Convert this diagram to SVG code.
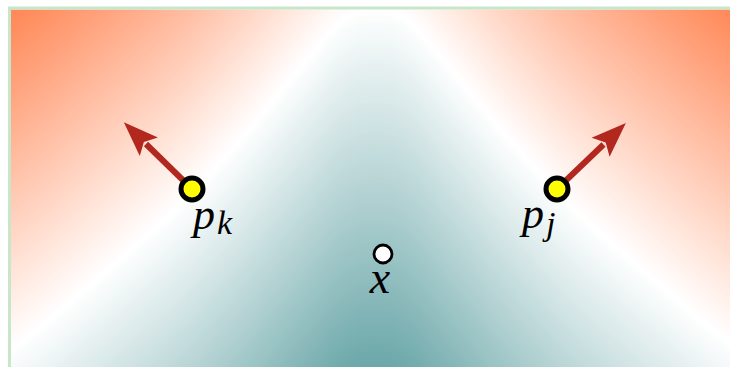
<svg xmlns="http://www.w3.org/2000/svg" width="730" height="367" viewBox="0 0 730 367">
<style>
.pt{stroke:#000;stroke-width:5;fill:#ffff00}
.ox{stroke:#000;stroke-width:2.8;fill:#fff}
.lbl{font-family:"Liberation Serif","Times New Roman",serif;font-style:italic;fill:#000}
.big{font-size:44px}
.sub{font-size:34px}
.arr{stroke:#b2281f;stroke-width:6;fill:none;marker-end:url(#head)}
</style>
<defs>
<clipPath id="clip"><rect x="11" y="9.5" width="719" height="357.5"/></clipPath>
<filter id="soft" filterUnits="userSpaceOnUse" x="-60" y="-60" width="850" height="490"><feGaussianBlur stdDeviation="2.5"/></filter>
<path id="lv" d="M-75,410 L-25,372 L15,341 L45,318 L75,292 L110,262 L135,240 L165,214 L190,190 L215,162 L235,140 L255,117 L275,92 L295,68 L315,44 L330,26 L345,12 L360,5 L375,3 L390,5 L405,12 L420,26 L435,44 L455,68 L475,92 L495,117 L515,140 L535,162 L560,190 L585,214 L615,240 L640,262 L675,292 L705,318 L735,341 L775,372 L825,410 L825,1300 L-75,1300 Z"/>
<marker id="head" markerUnits="userSpaceOnUse" orient="auto" refX="0" refY="0" markerWidth="40" markerHeight="30" overflow="visible">
<path d="M31,0 L-4,-13 L3,0 L-4,13 Z" fill="#b2281f"/>
</marker>
</defs>
<g id="field" clip-path="url(#clip)">
<g filter="url(#soft)">
<rect x="-60" y="-60" width="850" height="490" fill="rgb(255,138,90)"/>
<use href="#lv" transform="translate(0,-320)" fill="rgb(255,142,95)"/>
<use href="#lv" transform="translate(0,-310)" fill="rgb(255,145,100)"/>
<use href="#lv" transform="translate(0,-300)" fill="rgb(255,149,105)"/>
<use href="#lv" transform="translate(0,-290)" fill="rgb(255,152,110)"/>
<use href="#lv" transform="translate(0,-280)" fill="rgb(255,156,115)"/>
<use href="#lv" transform="translate(0,-270)" fill="rgb(255,159,120)"/>
<use href="#lv" transform="translate(0,-260)" fill="rgb(255,163,125)"/>
<use href="#lv" transform="translate(0,-250)" fill="rgb(255,166,130)"/>
<use href="#lv" transform="translate(0,-240)" fill="rgb(255,170,135)"/>
<use href="#lv" transform="translate(0,-230)" fill="rgb(255,173,140)"/>
<use href="#lv" transform="translate(0,-220)" fill="rgb(255,177,145)"/>
<use href="#lv" transform="translate(0,-210)" fill="rgb(255,181,150)"/>
<use href="#lv" transform="translate(0,-200)" fill="rgb(255,184,155)"/>
<use href="#lv" transform="translate(0,-190)" fill="rgb(255,188,160)"/>
<use href="#lv" transform="translate(0,-180)" fill="rgb(255,191,165)"/>
<use href="#lv" transform="translate(0,-170)" fill="rgb(255,195,170)"/>
<use href="#lv" transform="translate(0,-160)" fill="rgb(255,198,175)"/>
<use href="#lv" transform="translate(0,-150)" fill="rgb(255,202,180)"/>
<use href="#lv" transform="translate(0,-140)" fill="rgb(255,205,185)"/>
<use href="#lv" transform="translate(0,-130)" fill="rgb(255,209,190)"/>
<use href="#lv" transform="translate(0,-120)" fill="rgb(255,212,195)"/>
<use href="#lv" transform="translate(0,-110)" fill="rgb(255,216,200)"/>
<use href="#lv" transform="translate(0,-100)" fill="rgb(255,220,205)"/>
<use href="#lv" transform="translate(0,-90)" fill="rgb(255,223,210)"/>
<use href="#lv" transform="translate(0,-80)" fill="rgb(255,227,215)"/>
<use href="#lv" transform="translate(0,-70)" fill="rgb(255,230,220)"/>
<use href="#lv" transform="translate(0,-60)" fill="rgb(255,234,225)"/>
<use href="#lv" transform="translate(0,-50)" fill="rgb(255,237,230)"/>
<use href="#lv" transform="translate(0,-40)" fill="rgb(255,241,235)"/>
<use href="#lv" transform="translate(0,-30)" fill="rgb(255,244,240)"/>
<use href="#lv" transform="translate(0,-20)" fill="rgb(255,248,245)"/>
<use href="#lv" transform="translate(0,-10)" fill="rgb(255,251,250)"/>
<use href="#lv" transform="translate(0,0)" fill="rgb(255,255,255)"/>
<use href="#lv" transform="translate(0,10)" fill="rgb(251,253,253)"/>
<use href="#lv" transform="translate(0,20)" fill="rgb(247,250,250)"/>
<use href="#lv" transform="translate(0,30)" fill="rgb(243,248,248)"/>
<use href="#lv" transform="translate(0,40)" fill="rgb(239,245,245)"/>
<use href="#lv" transform="translate(0,50)" fill="rgb(234,243,243)"/>
<use href="#lv" transform="translate(0,60)" fill="rgb(230,240,241)"/>
<use href="#lv" transform="translate(0,70)" fill="rgb(226,238,238)"/>
<use href="#lv" transform="translate(0,80)" fill="rgb(222,235,236)"/>
<use href="#lv" transform="translate(0,90)" fill="rgb(218,233,233)"/>
<use href="#lv" transform="translate(0,100)" fill="rgb(214,230,231)"/>
<use href="#lv" transform="translate(0,110)" fill="rgb(210,228,229)"/>
<use href="#lv" transform="translate(0,120)" fill="rgb(206,226,226)"/>
<use href="#lv" transform="translate(0,130)" fill="rgb(201,223,224)"/>
<use href="#lv" transform="translate(0,140)" fill="rgb(197,221,221)"/>
<use href="#lv" transform="translate(0,150)" fill="rgb(193,218,219)"/>
<use href="#lv" transform="translate(0,160)" fill="rgb(189,216,217)"/>
<use href="#lv" transform="translate(0,170)" fill="rgb(185,213,214)"/>
<use href="#lv" transform="translate(0,180)" fill="rgb(181,211,212)"/>
<use href="#lv" transform="translate(0,190)" fill="rgb(177,208,209)"/>
<use href="#lv" transform="translate(0,200)" fill="rgb(173,206,207)"/>
<use href="#lv" transform="translate(0,210)" fill="rgb(169,204,205)"/>
<use href="#lv" transform="translate(0,220)" fill="rgb(164,201,202)"/>
<use href="#lv" transform="translate(0,230)" fill="rgb(160,199,200)"/>
<use href="#lv" transform="translate(0,240)" fill="rgb(156,196,197)"/>
<use href="#lv" transform="translate(0,250)" fill="rgb(152,194,195)"/>
<use href="#lv" transform="translate(0,260)" fill="rgb(148,191,193)"/>
<use href="#lv" transform="translate(0,270)" fill="rgb(144,189,190)"/>
<use href="#lv" transform="translate(0,280)" fill="rgb(140,186,188)"/>
<use href="#lv" transform="translate(0,290)" fill="rgb(136,184,185)"/>
<use href="#lv" transform="translate(0,300)" fill="rgb(132,181,183)"/>
<use href="#lv" transform="translate(0,310)" fill="rgb(127,179,181)"/>
<use href="#lv" transform="translate(0,320)" fill="rgb(123,177,178)"/>
<use href="#lv" transform="translate(0,330)" fill="rgb(119,174,176)"/>
<use href="#lv" transform="translate(0,340)" fill="rgb(115,172,173)"/>
<use href="#lv" transform="translate(0,350)" fill="rgb(111,169,171)"/>
<use href="#lv" transform="translate(0,360)" fill="rgb(107,167,169)"/>
</g>
</g>
<rect id="frame" x="9.5" y="8" width="730" height="370" fill="none" stroke="#c8e6c9" stroke-width="3"/>
<g id="connectors">
<line class="arr" x1="192" y1="189" x2="146" y2="144"/>
<line class="arr" x1="557" y1="189" x2="603.5" y2="144.5"/>
</g>
<g id="pk">
<circle class="pt" cx="192" cy="189" r="11"/>
<text class="lbl" x="193" y="229"><tspan class="big">p</tspan><tspan class="sub" x="217" y="234">k</tspan></text>
</g>
<g id="pj">
<circle class="pt" cx="557" cy="189" r="11"/>
<text class="lbl" x="522" y="228"><tspan class="big">p</tspan><tspan class="sub" x="546" y="235">j</tspan></text>
</g>
<g id="x">
<circle class="ox" cx="383" cy="254" r="9"/>
<text class="lbl big" x="380" y="293" text-anchor="middle" style="font-size:46px">x</text>
</g>
</svg>
